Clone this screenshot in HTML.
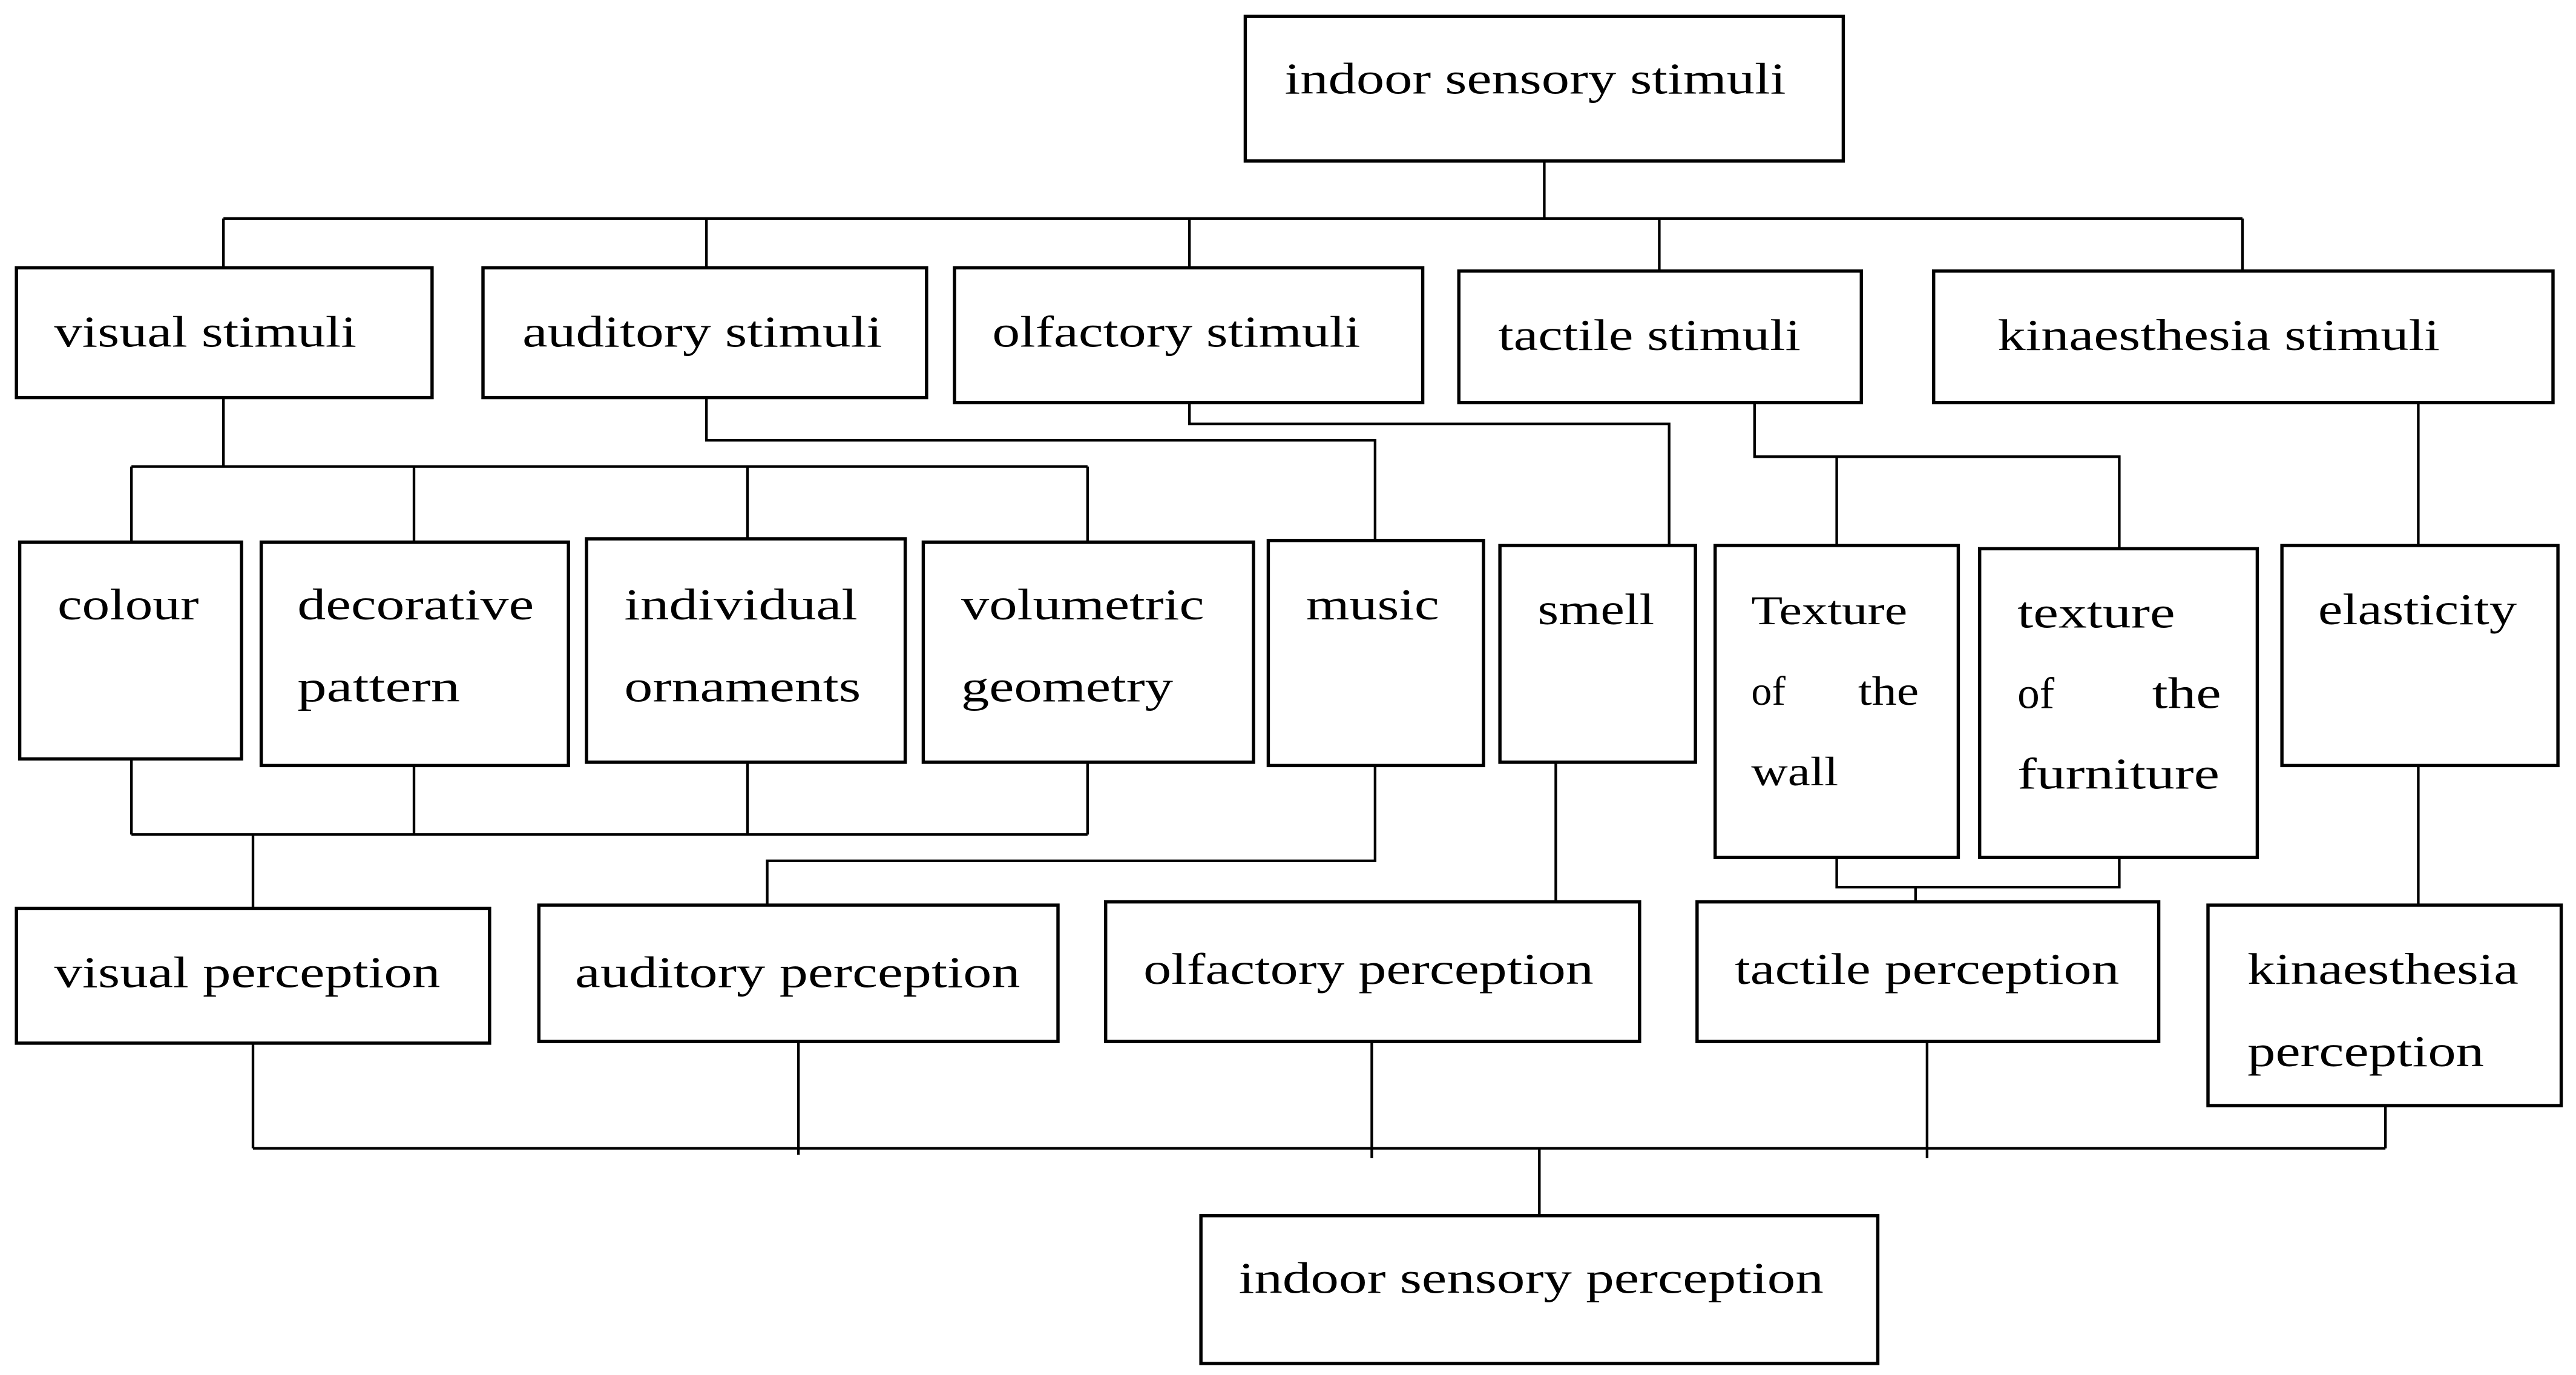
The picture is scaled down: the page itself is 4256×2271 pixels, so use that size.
<!DOCTYPE html>
<html><head><meta charset="utf-8"><style>html,body{margin:0;padding:0;background:#fff}svg{display:block}</style></head>
<body>
<svg width="4256" height="2271" viewBox="0 0 1568 837" preserveAspectRatio="none" xmlns="http://www.w3.org/2000/svg">
<g fill="#fff" stroke="#000" stroke-width="2">
<rect x="758" y="10" width="364" height="88"/>
<rect x="10" y="163" width="253" height="79"/>
<rect x="294" y="163" width="270" height="79"/>
<rect x="581" y="163" width="285" height="82"/>
<rect x="888" y="165" width="245" height="80"/>
<rect x="1177" y="165" width="377" height="80"/>
<rect x="12" y="330" width="135" height="132"/>
<rect x="159" y="330" width="187" height="136"/>
<rect x="357" y="328" width="194" height="136"/>
<rect x="562" y="330" width="201" height="134"/>
<rect x="772" y="329" width="131" height="137"/>
<rect x="913" y="332" width="119" height="132"/>
<rect x="1044" y="332" width="148" height="190"/>
<rect x="1205" y="334" width="169" height="188"/>
<rect x="1389" y="332" width="168" height="134"/>
<rect x="10" y="553" width="288" height="82"/>
<rect x="328" y="551" width="316" height="83"/>
<rect x="673" y="549" width="325" height="85"/>
<rect x="1033" y="549" width="281" height="85"/>
<rect x="1344" y="551" width="215" height="122"/>
<rect x="731" y="740" width="412" height="90"/>
</g>
<g fill="none" stroke="#000" stroke-width="1.6">
<path d="M940 98V133M136 133H1365M136 133V163M430 133V163M724 133V163M1010 133V165M1365 133V165"/>
<path d="M136 242V284M80 284H662M80 284V330M252 284V330M455 284V328M662 284V330"/>
<path d="M430 242V268H837V329"/>
<path d="M724 245V258H1016V332"/>
<path d="M1068 245V278H1290V334M1118 278V332"/>
<path d="M1472 245V332"/>
<path d="M80 462V508M252 466V508M455 464V508M662 464V508M80 508H662M154 508V553"/>
<path d="M837 466V524H467V551"/>
<path d="M947 464V549"/>
<path d="M1118 522V540H1290V522M1166 540V549"/>
<path d="M1472 466V551"/>
<path d="M154 635V699M486 634V703M835 634V705M1173 634V705M1452 673V699M154 699H1452M937 699V740"/>
</g>
<g font-family="'Liberation Serif',serif" font-size="27" fill="#000" lengthAdjust="spacingAndGlyphs">
<text x="782" y="57" textLength="305" lengthAdjust="spacingAndGlyphs">indoor sensory stimuli</text>
<text x="33" y="211" textLength="184" lengthAdjust="spacingAndGlyphs">visual stimuli</text>
<text x="318" y="211" textLength="219" lengthAdjust="spacingAndGlyphs">auditory stimuli</text>
<text x="604" y="211" textLength="224" lengthAdjust="spacingAndGlyphs">olfactory stimuli</text>
<text x="912" y="213" textLength="184" lengthAdjust="spacingAndGlyphs">tactile stimuli</text>
<text x="1216" y="213" textLength="269" lengthAdjust="spacingAndGlyphs">kinaesthesia stimuli</text>
<text x="35" y="377" textLength="86" lengthAdjust="spacingAndGlyphs">colour</text>
<text x="181" y="377" textLength="144" lengthAdjust="spacingAndGlyphs">decorative</text>
<text x="181" y="427" textLength="99" lengthAdjust="spacingAndGlyphs">pattern</text>
<text x="380" y="377" textLength="142" lengthAdjust="spacingAndGlyphs">individual</text>
<text x="380" y="427" textLength="144" lengthAdjust="spacingAndGlyphs">ornaments</text>
<text x="585" y="377" textLength="148" lengthAdjust="spacingAndGlyphs">volumetric</text>
<text x="585" y="427" textLength="129" lengthAdjust="spacingAndGlyphs">geometry</text>
<text x="795" y="377" textLength="81" lengthAdjust="spacingAndGlyphs">music</text>
<text x="936" y="380" textLength="71" lengthAdjust="spacingAndGlyphs">smell</text>
<text x="1066" y="380" textLength="95" lengthAdjust="spacingAndGlyphs" font-size="25">Texture</text>
<text x="1066" y="429" font-size="25">of</text>
<text x="1131" y="429" textLength="37" lengthAdjust="spacingAndGlyphs" font-size="25">the</text>
<text x="1066" y="478" textLength="53" lengthAdjust="spacingAndGlyphs" font-size="25">wall</text>
<text x="1228" y="382" textLength="96" lengthAdjust="spacingAndGlyphs">texture</text>
<text x="1228" y="431">of</text>
<text x="1310" y="431" textLength="42" lengthAdjust="spacingAndGlyphs">the</text>
<text x="1228" y="480" textLength="123" lengthAdjust="spacingAndGlyphs">furniture</text>
<text x="1411" y="380" textLength="121" lengthAdjust="spacingAndGlyphs">elasticity</text>
<text x="33" y="601" textLength="235" lengthAdjust="spacingAndGlyphs">visual perception</text>
<text x="350" y="601" textLength="271" lengthAdjust="spacingAndGlyphs">auditory perception</text>
<text x="696" y="599" textLength="274" lengthAdjust="spacingAndGlyphs">olfactory perception</text>
<text x="1056" y="599" textLength="234" lengthAdjust="spacingAndGlyphs">tactile perception</text>
<text x="1368" y="599" textLength="165" lengthAdjust="spacingAndGlyphs">kinaesthesia</text>
<text x="1368" y="649" textLength="144" lengthAdjust="spacingAndGlyphs">perception</text>
<text x="754" y="787" textLength="356" lengthAdjust="spacingAndGlyphs">indoor sensory perception</text>
</g>
</svg>
</body></html>
